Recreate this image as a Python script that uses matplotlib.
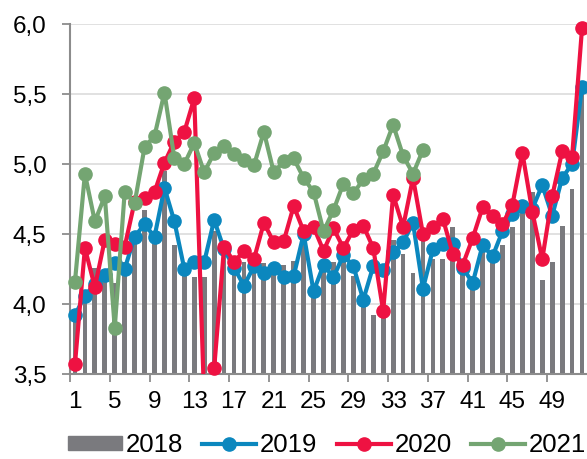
import matplotlib
matplotlib.use("Agg")
import matplotlib.pyplot as plt
from matplotlib.lines import Line2D
from matplotlib.patches import Patch
from matplotlib.ticker import FuncFormatter, FixedLocator
import numpy as np

plt.rcParams['font.family'] = ['Liberation Sans', 'DejaVu Sans']

weeks = list(range(1, 53))
tick_labels = [str(w) for w in range(1, 53, 4)]

s2018 = [3.90, 4.05, 4.26, 4.20, 4.15, 4.30, 4.50, 4.67, 4.45, 4.95,
         4.42, 4.25, 4.19, 4.19, 4.52, 4.35, 4.30, 4.30, 4.31, 4.29,
         4.26, 4.28, 4.31, 4.47, 4.10, 4.28, 4.30, 4.35, 4.20, 4.08,
         3.92, 3.95, 4.46, 4.36, 4.22, 4.45, 4.32, 4.32, 4.55, 4.28,
         4.20, 4.40, 4.33, 4.42, 4.55, 4.66, 4.80, 4.17, 4.30, 4.56,
         4.82, 5.59]
s2019 = [3.92, 4.06, 4.14, 4.21, 4.29, 4.25, 4.48, 4.57, 4.48, 4.83,
         4.59, 4.25, 4.30, 4.30, 4.60, 4.39, 4.26, 4.13, 4.27, 4.22,
         4.26, 4.19, 4.20, 4.50, 4.09, 4.28, 4.19, 4.35, 4.27, 4.03,
         4.27, 4.24, 4.37, 4.44, 4.58, 4.11, 4.39, 4.43, 4.43, 4.26,
         4.15, 4.42, 4.34, 4.52, 4.64, 4.70, 4.68, 4.85, 4.63, 4.90,
         5.00, 5.55]
s2020 = [3.57, 4.40, 4.12, 4.46, 4.43, 4.41, 4.73, 4.76, 4.80, 5.01,
         5.16, 5.23, 5.47, 3.30, 3.54, 4.41, 4.30, 4.38, 4.32, 4.58,
         4.44, 4.45, 4.70, 4.52, 4.55, 4.38, 4.54, 4.40, 4.53, 4.56,
         4.40, 3.95, 4.78, 4.55, 4.90, 4.50, 4.55, 4.61, 4.36, 4.28,
         4.47, 4.69, 4.63, 4.57, 4.71, 5.08, 4.66, 4.32, 4.77, 5.09,
         5.05, 5.97]
s2021 = [4.16, 4.93, 4.59, 4.77, 3.83, 4.80, 4.72, 5.12, 5.20, 5.51,
         5.04, 5.00, 5.15, 4.94, 5.08, 5.13, 5.07, 5.03, 4.99, 5.23,
         4.94, 5.02, 5.04, 4.90, 4.80, 4.52, 4.67, 4.86, 4.79, 4.89,
         4.93, 5.09, 5.28, 5.06, 4.93, 5.10]

YMIN, YMAX = 3.5, 6.0
c_bar = '#7a7a7e'
c19 = '#0b87be'
c20 = '#ee1242'
c21 = '#74a572'

fig = plt.figure(figsize=(5.87, 4.59), dpi=100)
ax = fig.add_axes([70/587, (459-374)/459, 517/587, 350/459])

ax.bar(weeks, s2018, width=0.48, color=c_bar, zorder=2)

lw = 3.0
ms = 9.5
for data, col, z in [(s2019, c19, 3), (s2020, c20, 4), (s2021, c21, 5)]:
    x = weeks[:len(data)]
    y = np.array(data, dtype=float)
    ax.plot(x, y, color=col, lw=lw, zorder=z, solid_joinstyle='round')
    ym = np.where(y >= YMIN, y, np.nan)
    ax.plot(x, ym, linestyle='none', marker='o', ms=ms, color=col,
            zorder=z, clip_on=False)

ax.set_xlim(0.5, 52.5)
ax.set_ylim(YMIN, YMAX)
ax.set_yticks(np.arange(3.5, 6.01, 0.5))
ax.yaxis.set_major_formatter(FuncFormatter(lambda v, p: f"{v:.1f}".replace('.', ',')))
ax.yaxis.grid(True, color='#dcdcdc', lw=1.2, zorder=0)
ax.set_axisbelow(True)

ax.xaxis.set_major_locator(FixedLocator(np.arange(0.5, 49, 4)))
ax.xaxis.set_major_formatter(FuncFormatter(lambda v, p: ''))
ax.xaxis.set_minor_locator(FixedLocator(range(1, 53, 4)))
ax.set_xticklabels(tick_labels, minor=True)

for sp in ['top', 'right']:
    ax.spines[sp].set_visible(False)
for sp in ['left', 'bottom']:
    ax.spines[sp].set_color('#8c8c8c')
    ax.spines[sp].set_linewidth(1.5)
ax.tick_params(axis='y', length=6, width=1.3, color='#8c8c8c', labelsize=17.5, pad=11)
ax.tick_params(axis='x', which='major', length=6, width=1.3, color='#8c8c8c')
ax.tick_params(axis='x', which='minor', length=0, labelsize=17.5, pad=12)

handles = [Patch(color=c_bar),
           Line2D([], [], color=c19, lw=lw, marker='o', ms=ms),
           Line2D([], [], color=c20, lw=lw, marker='o', ms=ms),
           Line2D([], [], color=c21, lw=lw, marker='o', ms=ms)]
fig.legend(handles, ['2018', '2019', '2020', '2021'], loc='center',
           bbox_to_anchor=(0.557, 14/459), ncol=4, frameon=False,
           fontsize=18.5, handlelength=2.1, handletextpad=0.15,
           columnspacing=0.75, handleheight=0.5)

fig.savefig('out.png', dpi=100)
